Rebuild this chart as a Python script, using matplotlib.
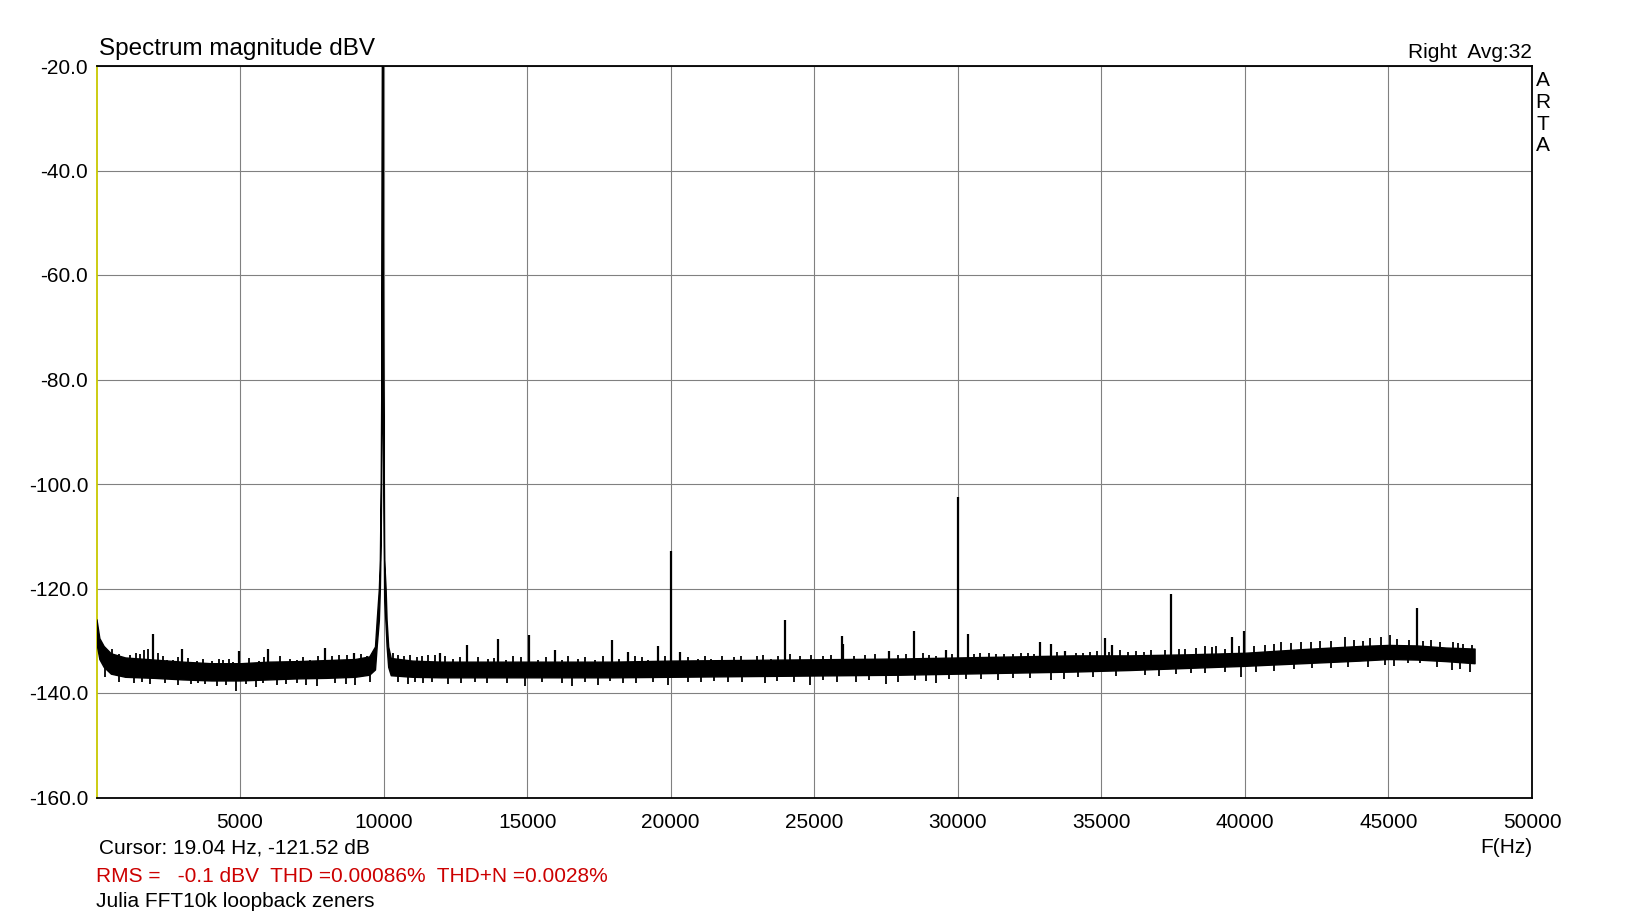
import numpy as np
import matplotlib
matplotlib.use("Agg")
import matplotlib.pyplot as plt

plt.rcParams['font.family'] = ['Liberation Sans', 'DejaVu Sans']

# Noise floor envelope (core band), dBV
env_freq = [0, 100, 250, 500, 1000, 2000, 3000, 4000, 5000, 6000, 7000, 8000, 9000, 9500,
            9700, 9760, 9835, 9870, 9900, 9930, 9950, 9975, 10000, 10020, 10070, 10104, 10160, 10250,
            11000, 12000, 14000, 16000, 18000, 20000, 22000, 24000, 26000, 28000, 30000,
            32000, 34000, 36000, 38000, 40000, 42000, 44000, 45000, 46000, 47000, 48000]
env_hi = [-125.9, -129.5, -131.0, -132.4, -133.2, -133.6, -134.0, -134.3, -134.3, -134.0, -133.9, -133.7, -133.5, -133.0,
          -131.1, -126.0, -120.0, -114.5, -100.0, -70.0, -0.1, -60.0, -90.0, -114.5, -120.0, -126.0, -131.1, -133.3,
          -133.8, -134.0, -134.0, -134.0, -134.0, -133.8, -133.7, -133.6, -133.5, -133.4, -133.2,
          -133.0, -132.8, -132.8, -132.6, -132.3, -131.6, -131.0, -130.8, -130.9, -131.3, -131.5]
env_lo = [-130.5, -133.5, -135.0, -136.3, -136.9, -137.1, -137.4, -137.6, -137.6, -137.4, -137.2, -137.1, -136.9, -136.5,
          -135.5, -131.0, -126.0, -120.0, -110.0, -90.0, -0.1, -80.0, -105.0, -122.0, -127.0, -131.0, -135.0, -136.6,
          -136.9, -137.0, -137.0, -137.0, -137.0, -136.9, -136.8, -136.7, -136.6, -136.5, -136.3,
          -136.1, -135.9, -135.6, -135.2, -134.8, -134.3, -133.8, -133.5, -133.6, -133.9, -134.3]

# Discrete spurs / harmonics
spike_freq = [1960, 2970, 4960, 5960, 7960, 8970, 11960, 12890, 13970, 15080, 15960, 17970, 18530,
              19570, 20000, 20310, 23970, 25960, 26010, 27600, 28470, 29580, 30000, 30340, 32880,
              33260, 33750, 35110, 35380, 37440, 39560, 39980, 45980]
spike_level = [-128.7, -131.6, -132.0, -131.6, -131.4, -132.3, -132.4, -130.8, -129.6, -128.9, -131.8, -129.9, -132.1,
               -131.0, -112.9, -132.1, -126.0, -129.1, -130.6, -132.0, -128.1, -131.8, -102.4, -128.7, -130.3,
               -130.6, -132.0, -129.5, -130.8, -121.1, -129.3, -128.1, -123.7]

# Small noise excursions above the band
grass_freq = [550, 784, 1150, 1364, 1500, 1654, 1805, 2153, 2300, 2443, 2675, 2850, 3200, 3488, 3700,
              4010, 4250, 4416, 4600, 4765, 5300, 5670, 5850, 6400, 6738, 6970, 7200, 7434, 7700,
              8200, 8450, 8595, 8710, 9200, 9406, 10335, 10510, 10700, 10916, 11150, 11322, 11550,
              11786, 12150, 12400, 12650, 13300, 13645, 13850, 14250, 14500, 14800, 15390, 15650,
              16200, 16430, 16780, 17000, 17360, 17650, 18200, 18750, 19000, 19216, 19800, 20600,
              20950, 21200, 21420, 21800, 22200, 22460, 22990, 23200, 23510, 23750, 24150, 24500,
              24900, 25310, 25600, 26400, 26760, 27100, 27900, 28200, 28790, 29000, 29250, 29800,
              30550, 30760, 31100, 31340, 31600, 31920, 32200, 32450, 32650, 33450, 34130, 34350,
              34590, 34850, 35250, 35640, 35930, 36200, 36500, 36740, 37200, 37700, 37900, 38300,
              38600, 38850, 39000, 39300, 39800, 40300, 40700, 41000, 41270, 41600, 41960, 42300,
              42600, 43000, 43470, 43800, 44100, 44340, 44750, 45040, 45300, 45700, 46200, 46490,
              46800, 47250, 47420, 47600, 47900]
grass_level = [-131.5, -132.5, -132.8, -132.3, -132.6, -131.8, -131.5, -132.3, -133.0, -133.6, -133.7, -133.2, -133.3, -133.9, -133.5,
               -133.8, -133.4, -133.7, -133.5, -134.0, -133.3, -133.8, -133.2, -133.0, -133.4, -133.6, -133.1, -133.7, -132.9,
               -133.0, -132.8, -133.7, -132.7, -132.6, -133.0, -132.4, -132.7, -132.9, -132.7, -133.1, -133.0, -132.8,
               -132.7, -133.0, -133.4, -133.2, -133.1, -133.4, -133.3, -133.6, -133.0, -133.2, -133.6, -133.2,
               -133.7, -133.0, -133.4, -133.2, -133.6, -133.0, -133.4, -133.0, -133.2, -133.6, -133.0, -133.1,
               -133.4, -132.9, -133.4, -133.0, -133.1, -132.9, -133.0, -132.8, -133.4, -133.0, -132.5, -132.9,
               -132.7, -133.0, -132.8, -132.9, -132.7, -132.6, -132.8, -132.5, -132.4, -132.7, -132.9, -132.6,
               -132.5, -132.4, -132.4, -132.6, -132.6, -132.6, -132.3, -132.4, -132.5, -132.2, -132.3, -132.4,
               -132.1, -132.0, -132.2, -131.8, -132.1, -131.9, -132.1, -131.8, -131.8, -131.6, -131.5, -131.4,
               -131.1, -131.2, -131.1, -131.5, -131.0, -131.0, -130.9, -130.6, -130.2, -130.5, -130.2, -130.3,
               -130.0, -130.1, -129.2, -129.8, -130.0, -129.5, -129.2, -128.9, -129.7, -129.9, -130.0, -129.9,
               -130.2, -130.2, -130.4, -130.6, -130.8]

# Downward excursions below the band
dip_freq = [300, 781, 1300, 1600, 1863, 2400, 2850, 3300, 3550, 3780, 4186, 4500, 4845, 5200, 5542,
            5800, 6273, 6600, 7000, 7300, 7666, 8300, 8700, 9000, 9522, 10500, 10858, 11100, 11380,
            11700, 12250, 12700, 13200, 13600, 14300, 14920, 15500, 16200, 16546, 17000, 17475, 17900,
            18345, 18800, 19400, 19900, 20600, 21072, 21500, 22000, 22500, 23300, 23700, 24300, 24845,
            25300, 25800, 26470, 26900, 27490, 27900, 28500, 28900, 29230, 29700, 30300, 30800, 31400,
            31920, 32500, 33260, 33700, 34200, 34700, 35500, 36510, 37000, 37600, 38140, 38600, 39300,
            39880, 40400, 41000, 41700, 42320, 43000, 43600, 44300, 44870, 45200, 45690, 46100, 46700,
            47200, 47500, 47840]
dip_level = [-137.0, -137.9, -138.0, -137.9, -138.2, -138.1, -138.5, -138.3, -138.0, -138.2, -138.7, -138.4, -139.6, -138.3, -138.9,
             -138.1, -138.5, -138.2, -138.0, -138.4, -138.7, -138.1, -138.3, -138.5, -137.8, -137.9, -138.2, -137.8, -138.0,
             -137.9, -138.3, -138.0, -137.8, -138.1, -138.0, -138.7, -137.8, -138.0, -138.7, -137.9, -138.5, -137.7,
             -138.0, -138.1, -137.8, -138.4, -137.9, -137.8, -137.7, -137.8, -137.8, -138.1, -137.7, -137.9, -138.5,
             -137.6, -137.8, -137.8, -137.5, -138.2, -137.9, -137.5, -137.7, -138.0, -137.4, -137.4, -137.3, -137.5,
             -137.2, -137.1, -137.6, -137.3, -137.0, -136.9, -136.8, -136.6, -136.7, -136.4, -136.1, -136.2, -135.9,
             -136.9, -135.9, -135.8, -135.5, -135.3, -135.3, -135.0, -135.1, -134.6, -134.9, -134.3, -134.3, -135.1,
             -135.6, -135.5, -135.9]

y_ticks = [-160, -140, -120, -100, -80, -60, -40, -20]
x_ticks = [5000, 10000, 15000, 20000, 25000, 30000, 35000, 40000, 45000, 50000]

W, H = 1628, 916
fig = plt.figure(figsize=(W / 100, H / 100), dpi=100)
ax = fig.add_axes([96.5 / W, 1 - 797.5 / H, (1532 - 96.5) / W, (797.5 - 66) / H])

ax.fill_between(env_freq, env_lo, env_hi, color='black', lw=1.0, zorder=3)

base_hi = np.interp(spike_freq, env_freq, env_hi)
ax.vlines(spike_freq, base_hi - 1, spike_level, color='black', lw=1.6, zorder=3)
g_base = np.interp(grass_freq, env_freq, env_hi)
ax.vlines(grass_freq, g_base - 1, grass_level, color='black', lw=1.3, zorder=3)
d_base = np.interp(dip_freq, env_freq, env_lo)
ax.vlines(dip_freq, d_base + 1, dip_level, color='black', lw=1.3, zorder=3)

ax.set_xlim(0, 50000)
ax.set_ylim(-160, -20)
ax.set_xticks(x_ticks)
ax.set_xticklabels([str(v) for v in x_ticks])
ax.set_yticks(y_ticks)
ax.set_yticklabels([f"{v:.1f}" for v in y_ticks])
ax.tick_params(length=0, labelsize=15)
ax.tick_params(axis='y', pad=6)
ax.tick_params(axis='x', pad=11)
ax.grid(True, color='#808080', lw=0.8)
ax.set_axisbelow(True)

for s in ['top', 'right', 'bottom']:
    ax.spines[s].set_color('black')
    ax.spines[s].set_linewidth(1.3)
ax.spines['left'].set_color('#c8c800')
ax.spines['left'].set_linewidth(1.3)

def fy(y):
    return 1 - (y + 2.5) / H

fig.text(98.6 / W, fy(46.7), "Spectrum magnitude dBV", fontsize=17.5, va='center', ha='left')
fig.text(1531.4 / W, fy(49.8), "Right  Avg:32", fontsize=15, va='center', ha='right')
for i, ch in enumerate("ARTA"):
    fig.text(1542.8 / W, fy(77.9 + 21.8 * i), ch, fontsize=15, va='center', ha='center')

fig.text(1506.5 / W, fy(845), "F(Hz)", fontsize=15, va='center', ha='center')
fig.text(98.6 / W, fy(845), "Cursor: 19.04 Hz, -121.52 dB", fontsize=15, va='center', ha='left')
fig.text(96.5 / W, fy(874), "RMS =   -0.1 dBV  THD =0.00086%  THD+N =0.0028%", fontsize=15,
         va='center', ha='left', color='#cc0000')
fig.text(96.5 / W, fy(899), "Julia FFT10k loopback zeners", fontsize=15, va='center', ha='left')

fig.savefig("out.png", dpi=100)
